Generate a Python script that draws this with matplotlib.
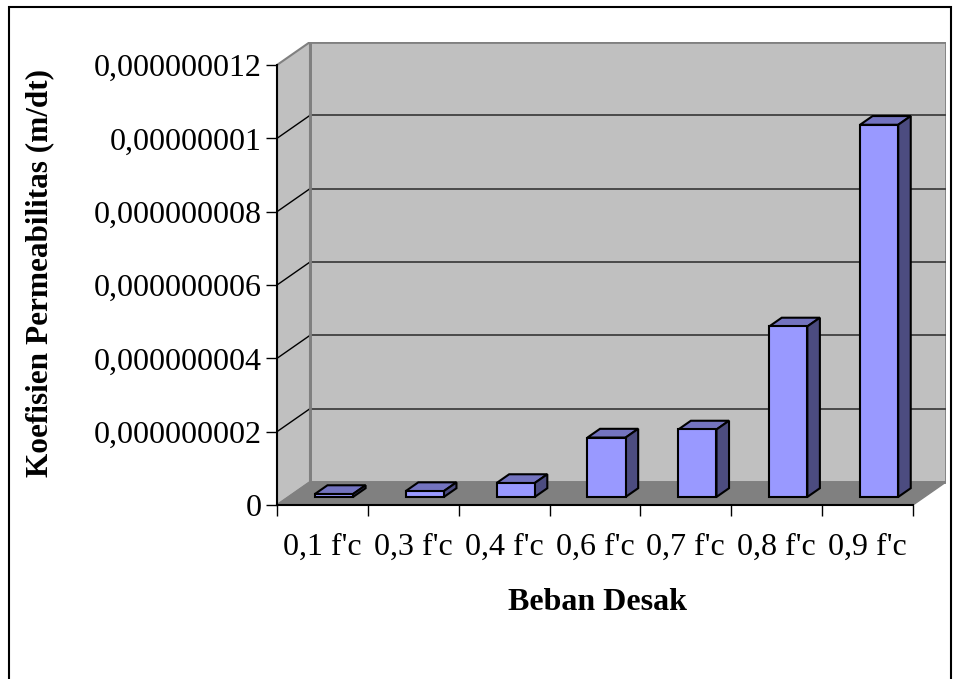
import matplotlib
matplotlib.use("Agg")
import matplotlib.pyplot as plt
from matplotlib.patches import Polygon, Rectangle

categories = ["0,1 f'c", "0,3 f'c", "0,4 f'c", "0,6 f'c", "0,7 f'c", "0,8 f'c", "0,9 f'c"]
values = [0.8e-10, 1.6e-10, 3.8e-10, 1.62e-9, 1.84e-9, 4.65e-9, 1.015e-8]
yticks = [0, 2e-9, 4e-9, 6e-9, 8e-9, 1e-8, 1.2e-8]
ytick_labels = ['0', '0,000000002', '0,000000004', '0,000000006',
                '0,000000008', '0,00000001', '0,000000012']
ylabel = "Koefisien Permeabilitas (m/dt)"
xlabel = "Beban Desak"

plt.rcParams['font.family'] = ['Liberation Serif', 'DejaVu Serif']

W, H = 955, 679
fig = plt.figure(figsize=(W / 100, H / 100), dpi=100)

# pixel geometry of the 3D box
x_front_l, x_front_r = 277, 913
y_zero, y_top_back = 505, 42
depth_px = (33, -23)
px_per_cat = (x_front_r - x_front_l) / len(categories)
ymax = yticks[-1]
px_per_val = (y_zero - 65) / ymax
dx = depth_px[0] / px_per_cat
dy = -depth_px[1] / px_per_val
x_back_r = x_front_r + depth_px[0]

ax = fig.add_axes([x_front_l / W, 1 - y_zero / H,
                   (x_back_r - x_front_l) / W, (y_zero - y_top_back) / H])
n = len(categories)
ax.set_xlim(0, n + dx)
ax.set_ylim(0, ymax + dy)
for s in ax.spines.values():
    s.set_visible(False)
ax.patch.set_visible(False)

wall = '#c0c0c0'
edge_gray = '#808080'
# left wall
ax.add_patch(Polygon([(0, 0), (dx, dy), (dx, ymax + dy), (0, ymax)], closed=True,
                     facecolor=wall, edgecolor=edge_gray, lw=1.5, zorder=1))
# back wall
ax.add_patch(Polygon([(dx, dy), (n + dx, dy), (n + dx, ymax + dy), (dx, ymax + dy)], closed=True,
                     facecolor=wall, edgecolor=edge_gray, lw=2, zorder=1))
# floor
ax.add_patch(Polygon([(0, 0), (n, 0), (n + dx, dy), (dx, dy)], closed=True,
                     facecolor='#808080', edgecolor=edge_gray, lw=1, zorder=1.5))

# gridlines
for t in yticks[1:-1]:
    ax.plot([dx, n + dx], [t + dy, t + dy], color='#404040', lw=1.3, zorder=2)
    ax.plot([0, dx], [t, t + dy], color='black', lw=1, zorder=2)
ax.plot([dx, dx], [dy, ymax + dy], color=edge_gray, lw=2, zorder=2)

# axes lines
ax.plot([0, 0], [0, ymax], color='black', lw=1.5, zorder=3, clip_on=False)
ax.plot([0, n], [0, 0], color='black', lw=1.5, zorder=3, clip_on=False)

# bars
f0, f1 = 0.35, 0.73
bw = 0.42
front_c, top_c, side_c = '#9999ff', '#7373bf', '#4c4c80'
for i, v in enumerate(values):
    xl = i + 0.5 - bw / 2 + f0 * dx
    xr = xl + bw
    yb = f0 * dy
    yt = yb + v
    ddx = (f1 - f0) * dx
    ddy = (f1 - f0) * dy
    ax.add_patch(Polygon([(xl, yt), (xr, yt), (xr + ddx, yt + ddy), (xl + ddx, yt + ddy)],
                         closed=True, facecolor=top_c, edgecolor='black', lw=1.5,
                         joinstyle='miter', zorder=4))
    ax.add_patch(Polygon([(xr, yb), (xr + ddx, yb + ddy), (xr + ddx, yt + ddy), (xr, yt)],
                         closed=True, facecolor=side_c, edgecolor='black', lw=1.5,
                         joinstyle='miter', zorder=4))
    ax.add_patch(Polygon([(xl, yb), (xr, yb), (xr, yt), (xl, yt)],
                         closed=True, facecolor=front_c, edgecolor='black', lw=1.5,
                         joinstyle='miter', zorder=5))

# ticks
ax.set_yticks(yticks)
ax.set_yticklabels(ytick_labels, fontsize=23)
ax.tick_params(axis='y', length=8, width=1, pad=3, direction='out')
ax.set_xticks([i + 0.5 for i in range(n)])
ax.set_xticklabels(categories, fontsize=23)
ax.set_xticks(list(range(n + 1)), minor=True)
ax.tick_params(axis='x', which='major', length=0, pad=20)
ax.tick_params(axis='x', which='minor', length=8, width=1, direction='out')

fig.text(40 / W, 1 - 273 / H, ylabel, rotation=90, fontsize=22.5, fontweight='bold',
         ha='center', va='center')
fig.text(597 / W, 1 - 603 / H, xlabel, fontsize=23, fontweight='bold',
         ha='center', va='center')

# outer border
fig.add_artist(Rectangle((9 / W, -0.05), (951 - 9) / W, 1.05 - 7 / H,
                         transform=fig.transFigure, fill=False, edgecolor='black', lw=1.5))

fig.savefig('out.png', dpi=100)
